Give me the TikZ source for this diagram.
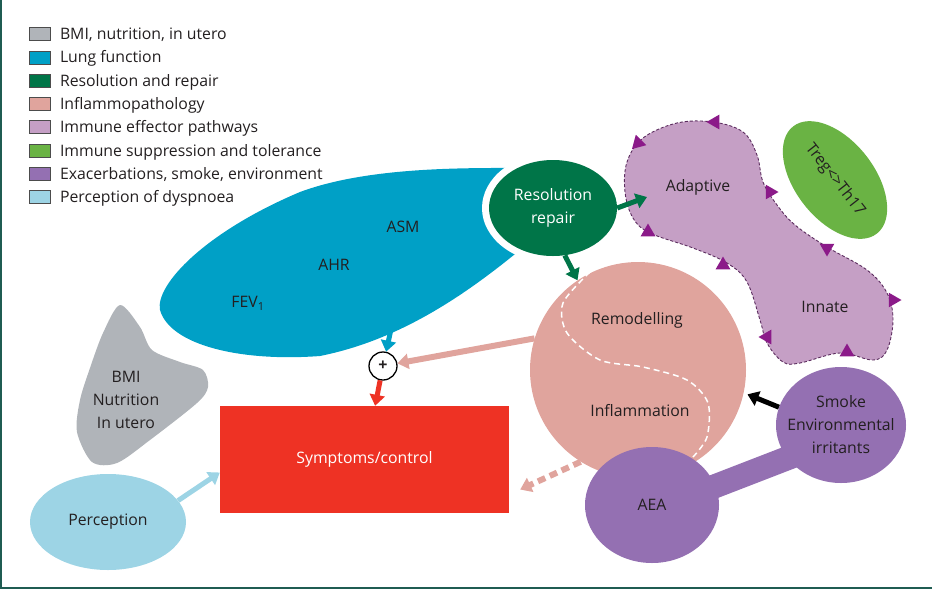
\documentclass[tikz,border=0pt]{standalone}
\usepackage{fontspec}
\setmainfont{Open Sans}
\usetikzlibrary{positioning,shapes.geometric,arrows.meta}
\definecolor{bmigray}{HTML}{B0B4B9}
\definecolor{lungblue}{HTML}{00A0C6}
\definecolor{resgreen}{HTML}{007548}
\definecolor{inflpink}{HTML}{E0A49D}
\definecolor{immpurple}{HTML}{C59FC5}
\definecolor{supgreen}{HTML}{6AB344}
\definecolor{exapurple}{HTML}{9470B2}
\definecolor{percblue}{HTML}{9DD4E5}
\definecolor{symred}{HTML}{EE3224}
\definecolor{markpurple}{HTML}{8B1A89}
\definecolor{dashpurple}{HTML}{5B2C5E}
\definecolor{txtdark}{HTML}{231F20}
\definecolor{framecol}{HTML}{1F5C52}
\begin{document}
\begin{tikzpicture}[x=1pt, y=-1pt, font=\fontsize{15.8}{23}\selectfont, text=txtdark,
  keybox/.style={draw=black!70, line width=0.6pt, minimum width=21pt, minimum height=13pt, inner sep=0pt},
  keytext/.style={inner sep=0pt, text height=11.5pt, text depth=3.5pt},
  flow/.style={line width=5pt, -{Triangle[width=15pt,length=11pt]}},
  pathtip/.style={regular polygon, regular polygon sides=3, fill=markpurple, inner sep=0pt, minimum size=17pt}]
\useasboundingbox (0,0) rectangle (932,590);
\draw[framecol, line width=1.5pt] (1,0) -- (1,588) -- (932,588);

\foreach \c/\t [count=\i from 0] in {bmigray/{BMI, nutrition, in utero}, lungblue/Lung function, resgreen/Resolution and repair, inflpink/Inflammopathology, immpurple/Immune effector pathways, supgreen/Immune suppression and tolerance, exapurple/{Exacerbations, smoke, environment}, percblue/Perception of dyspnoea}
{
  \node[keybox, fill=\c] (key\i) at (40,{34+23.3*\i}) {};
  \node[keytext, right=9pt of key\i, yshift=-1.5pt] (lbl\i) {\t};
}

\fill[lungblue] (160,310) .. controls (155,285) and (205,232) .. (300,192)
  .. controls (370,166) and (470,168) .. (530,168) -- (560,210) -- (520,250)
  .. controls (465,295) and (400,340) .. (320,356)
  .. controls (240,362) and (170,345) .. cycle;
\node (asm) at (403,227) {ASM};
\node (ahr) at (334,265) {AHR};
\node (fev) at (248,303) {FEV\textsubscript{1}};
\coordinate (lungout) at (393,320);

\fill[white] (553,208) ellipse [x radius=71, y radius=55];
\node[ellipse, fill=resgreen, minimum width=128pt, minimum height=96pt, text=white, align=center, inner sep=0pt] (res) at (553,208) {Resolution\\repair};

\fill[bmigray] plot[smooth cycle] coordinates {(120,305) (140,327) (152,350) (180,362) (203,370) (208,387) (197,403) (150,440) (117,463) (92,462) (77,432) (80,400) (90,368) (103,333)};
\node[align=center] (bmi) at (126,400) {BMI\\Nutrition\\In utero};
\node[ellipse, fill=percblue, minimum width=156pt, minimum height=96pt] (perc) at (108,522) {Perception};

\filldraw[fill=immpurple, draw=dashpurple, line width=0.9pt, dash pattern=on 3pt off 2pt] plot[smooth cycle, tension=0.6] coordinates {(713,122) (743,132) (757,155) (763,182) (777,205) (795,225) (827,247) (867,270) (887,293) (893,320) (887,350) (873,360) (840,353) (800,363) (783,362) (767,343) (760,320) (747,282) (727,263) (693,248) (650,233) (633,218) (625,192) (627,162) (643,138) (677,123)};
\foreach \x/\y/\r [count=\i] in {715/122/90, 638/143/135, 770/192/-90, 648/232/0, 827/248/180, 723/265/0, 893/300/-90, 767/337/90, 847/352/0}
  \node[pathtip, rotate=\r] (tip\i) at (\x,\y) {};
\node (adapt) at (698,187) {Adaptive};
\node (innate) at (825,307) {Innate};
\coordinate (adin) at (647,197);

\node[ellipse, fill=supgreen, minimum width=136pt, minimum height=79pt, rotate=-52] (treg) at (835,180) {Treg<>Th17};

\node[circle, fill=inflpink, minimum size=216pt] (infl) at (638,370) {};
\draw[white, line width=1.5pt, dash pattern=on 6pt off 4pt] plot[smooth] coordinates {(590,272) (563,303) (567,333) (600,360) (643,367) (687,380) (708,403) (707,437) (693,457)};
\node (remod) at (637,320) {Remodelling};
\node (inflam) at (640,411) {Inflammation};

\node[ellipse, fill=exapurple, minimum width=134pt, minimum height=116pt] (aea) at (652,505) {};
\node[ellipse, fill=exapurple, minimum width=130pt, minimum height=116pt] (smoke) at (841,425) {};
\draw[exapurple, line width=24pt] ([yshift=-5.6pt]aea.center) -- ([yshift=-12.5pt]smoke.center);
\node (aeatext) at (aea) {AEA};
\node[align=center] (smoketext) at (smoke) {Smoke\\Environmental\\irritants};

\node[fill=symred, minimum width=289pt, minimum height=107pt, text=white] (symp) at (364.5,459.5) {Symptoms/control};
\node[circle, draw=black, fill=white, line width=1.3pt, minimum size=28pt, inner sep=0pt, font=\fontsize{16}{16}\selectfont\bfseries] (plus) at (383,366) {+};

\draw[flow, lungblue] (lungout) -- (plus);
\draw[flow, inflpink, line width=6pt] (infl.163) -- (plus);
\draw[flow, symred] (plus) -- (symp);
\draw[flow, percblue] (perc.17) -- ([yshift=-13pt]symp.west);
\draw[flow, inflpink, line width=6pt, dash pattern=on 8pt off 5pt] (infl.238) -- ([xshift=11pt,yshift=-30pt]symp.east);
\draw[flow, black] (smoke.164) -- ([xshift=4pt]infl.-13);
\draw[flow, resgreen] (res.east) -- (adin);
\draw[flow, resgreen] (res.-76) -- (infl.124);
\end{tikzpicture}
\end{document}
